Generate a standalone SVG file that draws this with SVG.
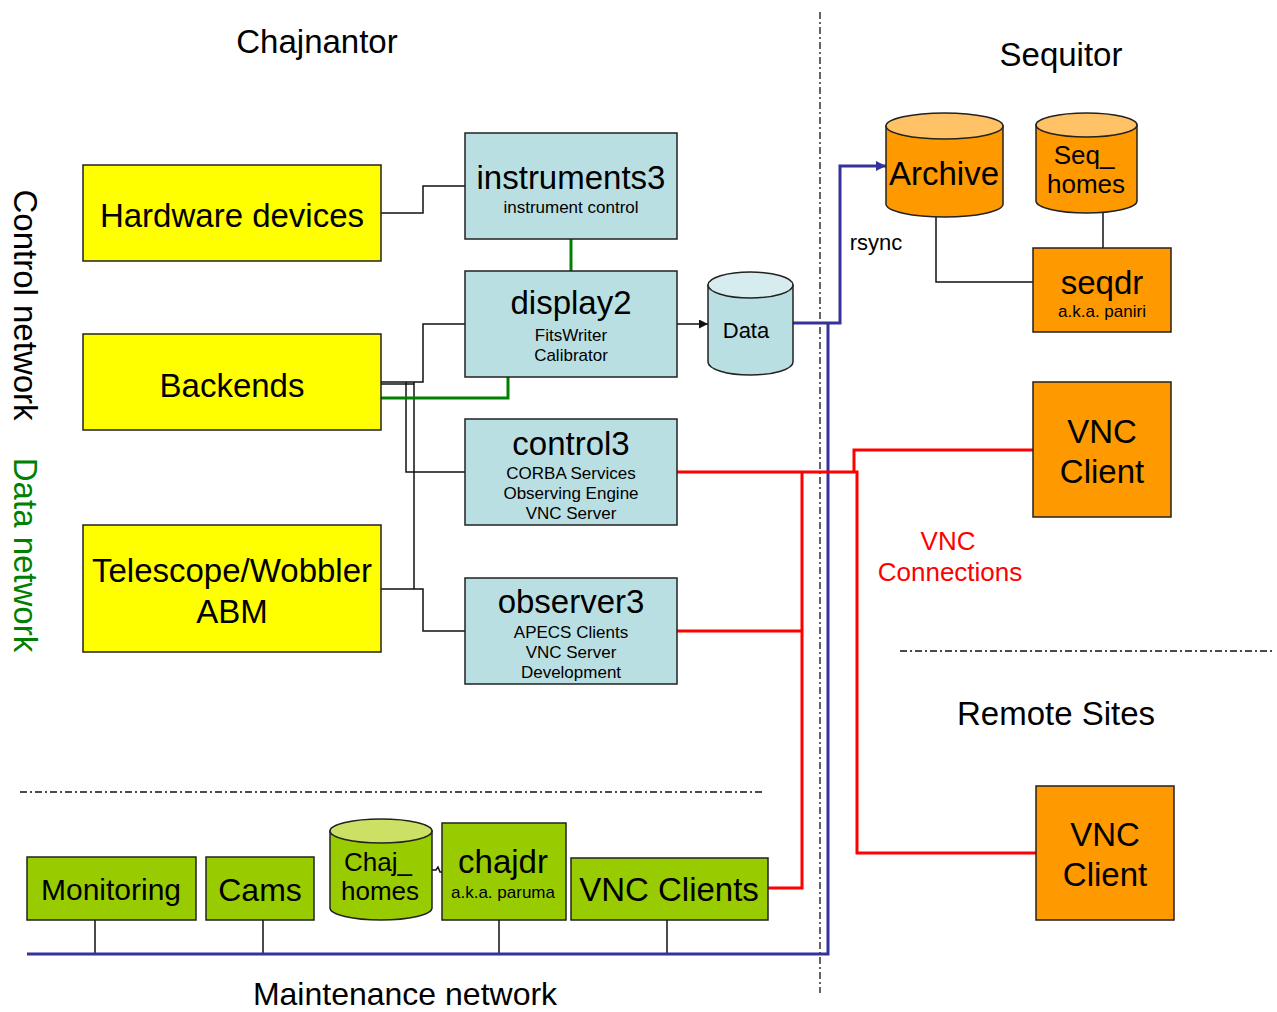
<svg xmlns="http://www.w3.org/2000/svg" width="1277" height="1012" viewBox="0 0 1277 1012">
<defs>
<style>
text{font-family:"Liberation Sans",Arial,sans-serif;fill:#000;text-anchor:middle}
.big{font-size:33px}
.mid{font-size:26px}
.sm{font-size:17px}
.lbl{font-size:22px}
.box{stroke:#222;stroke-width:1.5}
.yel{fill:#FFFF00}
.blu{fill:#B9DFE3}
.org{fill:#FF9900}
.grn{fill:#99CC00}
.ln{fill:none;stroke:#111;stroke-width:1.5}
.gl{fill:none;stroke:#008000;stroke-width:3}
.bl{fill:none;stroke:#333399;stroke-width:3}
.rl{fill:none;stroke:#FF0000;stroke-width:3}
.dd{fill:none;stroke:#111;stroke-width:1.3;stroke-dasharray:7 3 2 3}
</style>
<marker id="ab" viewBox="0 0 10 10" refX="10" refY="5" markerWidth="9" markerHeight="9" markerUnits="userSpaceOnUse" orient="auto"><path d="M0,0L10,5L0,10z" fill="#111"/></marker>
<marker id="abl" viewBox="0 0 10 10" refX="10" refY="5" markerWidth="10" markerHeight="10" markerUnits="userSpaceOnUse" orient="auto"><path d="M0,0L10,5L0,10z" fill="#333399"/></marker>
</defs>
<rect width="1277" height="1012" fill="#fff"/>

<g id="labels">
<text class="big" x="317" y="53">Chajnantor</text>
<text class="big" x="1061" y="66">Sequitor</text>
<text class="big" x="1056" y="725">Remote Sites</text>
<text class="big" x="405" y="1005" style="font-size:32px">Maintenance network</text>
<text class="big" transform="translate(14,305) rotate(90)">Control network</text>
<text class="big" transform="translate(14,555) rotate(90)" style="fill:#008000">Data network</text>
<text class="mid" x="948" y="550" style="fill:#FF0000">VNC</text>
<text class="mid" x="950" y="581" style="fill:#FF0000">Connections</text>
<text class="lbl" x="876" y="250">rsync</text>
</g>

<g id="separators">
<path class="dd" d="M820,12V993"/>
<path class="dd" d="M20,792H762"/>
<path class="dd" d="M900,651H1273"/>
</g>

<g id="connectors">
<path class="ln" d="M381,213H423V186H465"/>
<path class="ln" d="M381,382H423V324H465"/>
<path class="ln" d="M381,384H414"/>
<path class="ln" d="M406,382V472H465"/>
<path class="ln" d="M414,382V589"/>
<path class="ln" d="M381,589H423V631H465"/>
<path class="ln" d="M677,324H708" marker-end="url(#ab)"/>
<path class="ln" d="M936,213V282H1033"/>
<path class="ln" d="M1103,213V248"/>
<path class="ln" d="M432,870H436L438,867L440,872H442"/>
<path class="ln" d="M95,920V954M263,920V954M499,920V954M667,920V954"/>
<path class="gl" d="M571,239V271"/>
<path class="gl" d="M381,398H508V376"/>
<path class="bl" d="M793,323H840V166H886" marker-end="url(#abl)"/>
<path class="bl" d="M828,323V954H27"/>
<path class="rl" d="M677,472H857V853H1037"/>
<path class="rl" d="M854,472V450H1033"/>
<path class="rl" d="M677,631H802"/>
<path class="rl" d="M802,472V888H768"/>
</g>

<g id="hardware-devices">
<rect class="box yel" x="83" y="165" width="298" height="96"/>
<text class="big" x="232" y="227">Hardware devices</text>
</g>
<g id="backends">
<rect class="box yel" x="83" y="334" width="298" height="96"/>
<text class="big" x="232" y="397">Backends</text>
</g>
<g id="telescope">
<rect class="box yel" x="83" y="525" width="298" height="127"/>
<text class="big" x="232" y="582">Telescope/Wobbler</text>
<text class="big" x="232" y="623">ABM</text>
</g>

<g id="instruments3">
<rect class="box blu" x="465" y="133" width="212" height="106"/>
<text class="big" x="571" y="189">instruments3</text>
<text class="sm" x="571" y="213">instrument control</text>
</g>
<g id="display2">
<rect class="box blu" x="465" y="271" width="212" height="106"/>
<text class="big" x="571" y="314">display2</text>
<text class="sm" x="571" y="341">FitsWriter</text>
<text class="sm" x="571" y="361">Calibrator</text>
</g>
<g id="control3">
<rect class="box blu" x="465" y="419" width="212" height="106"/>
<text class="big" x="571" y="455">control3</text>
<text class="sm" x="571" y="479">CORBA Services</text>
<text class="sm" x="571" y="499">Observing Engine</text>
<text class="sm" x="571" y="519">VNC Server</text>
</g>
<g id="observer3">
<rect class="box blu" x="465" y="578" width="212" height="106"/>
<text class="big" x="571" y="613">observer3</text>
<text class="sm" x="571" y="638">APECS Clients</text>
<text class="sm" x="571" y="658">VNC Server</text>
<text class="sm" x="571" y="678">Development</text>
</g>

<g id="data">
<path class="box blu" d="M708,285V362A42.5,13 0 0 0 793,362V285z"/>
<ellipse class="box" cx="750.5" cy="285" rx="42.5" ry="13" fill="#D6ECEE"/>
<text class="lbl" x="746" y="338">Data</text>
</g>

<g id="archive">
<path class="box org" d="M886,126V204A58.5,13 0 0 0 1003,204V126z"/>
<ellipse class="box" cx="944.5" cy="126" rx="58.5" ry="13" fill="#FFC266"/>
<text class="big" x="944" y="185">Archive</text>
</g>
<g id="seq-homes">
<path class="box org" d="M1036,125V201A50.5,12 0 0 0 1137,201V125z"/>
<ellipse class="box" cx="1086.5" cy="125" rx="50.5" ry="12" fill="#FFC266"/>
<text class="mid" x="1084" y="164">Seq_</text>
<text class="mid" x="1086" y="193">homes</text>
</g>
<g id="seqdr">
<rect class="box org" x="1033" y="248" width="138" height="84"/>
<text class="big" x="1102" y="294">seqdr</text>
<text class="sm" x="1102" y="317">a.k.a. paniri</text>
</g>
<g id="vnc-client-1">
<rect class="box org" x="1033" y="382" width="138" height="135"/>
<text class="big" x="1102" y="443">VNC</text>
<text class="big" x="1102" y="483">Client</text>
</g>
<g id="vnc-client-2">
<rect class="box org" x="1036" y="786" width="138" height="134"/>
<text class="big" x="1105" y="846">VNC</text>
<text class="big" x="1105" y="886">Client</text>
</g>

<g id="monitoring">
<rect class="box grn" x="27" y="857" width="169" height="63"/>
<text class="big" x="111" y="900" style="font-size:30px">Monitoring</text>
</g>
<g id="cams">
<rect class="box grn" x="206" y="857" width="108" height="63"/>
<text class="big" x="260" y="901" style="font-size:32px">Cams</text>
</g>
<g id="chaj-homes">
<path class="box grn" d="M330,831V908A51,12 0 0 0 432,908V831z"/>
<ellipse class="box" cx="381" cy="831" rx="51" ry="12" fill="#CCE066"/>
<text class="mid" x="378" y="871">Chaj_</text>
<text class="mid" x="380" y="900">homes</text>
</g>
<g id="chajdr">
<rect class="box grn" x="442" y="823" width="124" height="97"/>
<text class="big" x="503" y="873">chajdr</text>
<text class="sm" x="503" y="898">a.k.a. paruma</text>
</g>
<g id="vnc-clients">
<rect class="box grn" x="571" y="858" width="197" height="62"/>
<text class="big" x="669" y="901">VNC Clients</text>
</g>
</svg>
